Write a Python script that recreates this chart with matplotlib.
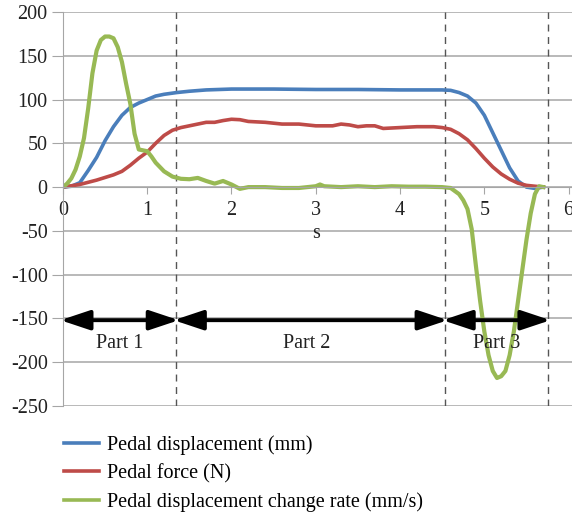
import matplotlib
matplotlib.use("Agg")
import matplotlib.pyplot as plt
from matplotlib.lines import Line2D

plt.rcParams['font.family'] = ['Liberation Serif', 'DejaVu Serif']
plt.rcParams['axes.unicode_minus'] = False

# pedal displacement (mm)
t_disp = [0, 0.1, 0.2, 0.3, 0.4, 0.5, 0.6, 0.7, 0.8, 0.9, 1.0, 1.1, 1.2, 1.35,
          1.5, 1.7, 2.0, 2.5, 3.0, 3.5, 4.0, 4.5, 4.6, 4.7, 4.8, 4.9, 5.0, 5.1,
          5.2, 5.3, 5.4, 5.5, 5.6, 5.7]
disp = [0, 1, 5, 19, 34, 53, 69, 82, 91, 96, 100, 104, 106, 108,
        109.5, 111, 112, 112, 111.5, 111.5, 111, 111, 110.5, 108, 104, 96, 82, 62,
        42, 22, 7, 0, -1.5, 0]

# pedal force (N)
t_force = [0, 0.2, 0.4, 0.6, 0.7, 0.8, 0.9, 1.0, 1.1, 1.2, 1.3, 1.4, 1.5, 1.6,
           1.7, 1.8, 1.9, 2.0, 2.1, 2.2, 2.4, 2.6, 2.8, 3.0, 3.1, 3.2, 3.3, 3.4,
           3.5, 3.6, 3.7, 3.8, 4.0, 4.2, 4.4, 4.5, 4.6, 4.7, 4.8, 4.9, 5.0, 5.1,
           5.2, 5.3, 5.4, 5.5, 5.6, 5.7]
force = [0, 3, 8, 14, 18, 25, 33, 40, 50, 59, 65, 68, 70, 72,
         74, 74, 76, 77.5, 77, 75, 74, 72, 72, 70, 70, 70, 72, 71,
         69, 70, 70, 67, 68, 69, 69, 68, 66, 61, 54, 44, 33, 23,
         15, 9, 4.5, 2, 1, 0]

# pedal displacement change rate (mm/s)
t_rate = [0, 0.05, 0.1, 0.15, 0.2, 0.25, 0.3, 0.35, 0.4, 0.45, 0.5, 0.55, 0.6,
          0.65, 0.7, 0.75, 0.8, 0.85, 0.9, 0.95, 1.0, 1.05, 1.1, 1.2, 1.3, 1.4,
          1.5, 1.6, 1.7, 1.8, 1.9, 2.0, 2.1, 2.2, 2.4, 2.6, 2.8, 3.0, 3.05, 3.1,
          3.3, 3.5, 3.7, 3.9, 4.1, 4.3, 4.5, 4.6, 4.7, 4.75, 4.8, 4.85, 4.9,
          4.95, 5.0, 5.05, 5.1, 5.15, 5.2, 5.25, 5.3, 5.35, 5.4, 5.45, 5.5,
          5.55, 5.6, 5.65, 5.7]
rate = [0, 4, 10, 20, 35, 56, 90, 130, 156, 168, 172, 172, 170,
        160, 143, 118, 95, 61, 43, 42, 41, 35, 28, 18, 12, 9.5,
        9, 10.5, 7, 4, 7, 3, -2, 0, 0, -1, -1, 1, 3, 1,
        0, 1, 0, 1, 0.5, 0.5, 0, -1, -8, -15, -25, -48, -90,
        -130, -165, -192, -210, -218, -216, -210, -192, -165, -130, -95, -60,
        -30, -8, 1, 0]

# phase boundaries (s) and labels
bounds = [0, 1.345, 4.535, 5.755]
parts = ['Part 1', 'Part 2', 'Part 3']
part_x = [0.67, 2.89, 5.14]

labels = ['Pedal displacement (mm)', 'Pedal force (N)',
          'Pedal displacement change rate (mm/s)']
colors = ['#4a7ebb', '#be4b48', '#98b954']

fs = 14.5
txt = '#222222'

fig = plt.figure(figsize=(5.72, 5.13), dpi=100)
ax = fig.add_axes([0.110, 0.2086, 0.89, 0.768])

ax.plot(t_disp, disp, color=colors[0], lw=2.6, solid_joinstyle='round')
ax.plot(t_force, force, color=colors[1], lw=2.6, solid_joinstyle='round')
ax.plot(t_rate, rate, color=colors[2], lw=3, solid_joinstyle='round')

ax.set_xlim(0, 6.04)
ax.set_ylim(-250, 200)
ax.set_yticks(range(-250, 201, 50))
ax.set_xticks(range(0, 7))
ax.grid(axis='y', color='#a6a6a6', lw=1.1)
ax.set_axisbelow(True)

for s in ['top', 'right']:
    ax.spines[s].set_visible(False)
ax.spines['bottom'].set_position(('data', 0))
ax.spines['bottom'].set_color('#a6a6a6')
ax.spines['left'].set_color('#a6a6a6')
ax.tick_params(axis='y', length=8, color='#a6a6a6', pad=3, labelsize=fs,
               labelcolor=txt)
ax.tick_params(axis='x', length=5, color='#a6a6a6', pad=5, labelsize=fs,
               labelcolor=txt)

ax.text(3, -53, 's', ha='center', va='center', fontsize=fs, color=txt)

for b in bounds[1:]:
    ax.axvline(b, color='#555555', lw=1, ls=(0, (5, 4)), zorder=1)

# double arrows marking the three phases
for i in range(3):
    ax.annotate('', xy=(bounds[i + 1] + 0.03, -152), xytext=(bounds[i] - 0.03, -152),
                arrowprops=dict(arrowstyle='<|-|>,head_length=1.8,head_width=0.6',
                                mutation_scale=10, color='black', lw=2.8,
                                shrinkA=0, shrinkB=0))
    ax.text(part_x[i], -179, parts[i], ha='center', va='center',
            fontsize=fs, color=txt, zorder=5)

handles = [Line2D([], [], color=c, lw=2.6) for c in colors]
fig.legend(handles, labels, loc='upper left', bbox_to_anchor=(0.098, 0.168),
           frameon=False, fontsize=fs, handlelength=1.75, handletextpad=0.4,
           labelspacing=0.45, borderaxespad=0)

fig.savefig('out.png', dpi=100)
